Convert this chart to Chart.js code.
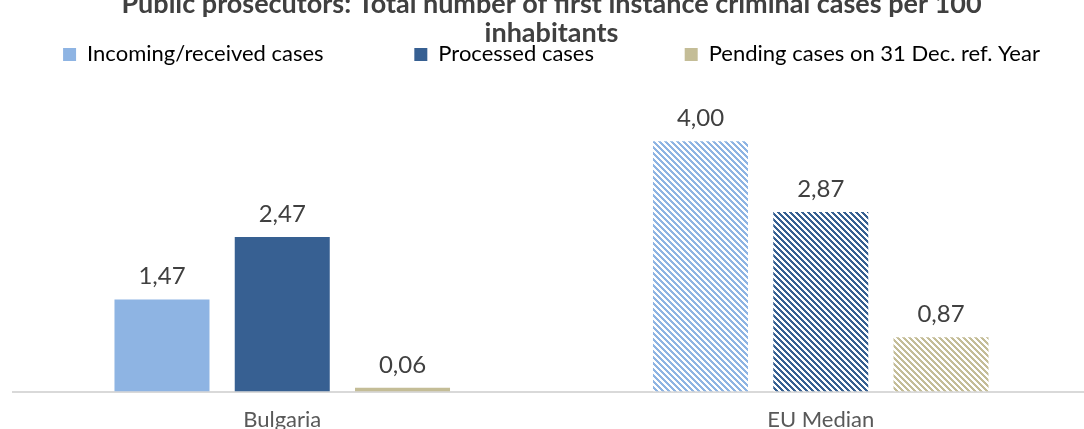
<!DOCTYPE html>
<html>
<head>
<meta charset="utf-8">
<script src="https://cdn.jsdelivr.net/npm/chart.js"></script>
<style>
  html, body { margin: 0; padding: 0; background: #fff; overflow: hidden; }
  #wrap { position: absolute; left: 0; top: -13px; width: 1092px; height: 453px; }
</style>
</head>
<body>
<div id="wrap"><canvas id="myChart"></canvas></div>
<script>
// data
const categories = ['Bulgaria', 'EU Median'];
const incoming = [1.47, 4.00];
const processed = [2.47, 2.87];
const pending = [0.06, 0.87];
const seriesNames = ['Incoming/received cases', 'Processed cases', 'Pending cases on 31 Dec. ref. Year'];
const seriesColors = ['#8eb4e3', '#376092', '#c4bd97'];

// diagonal hatch like Excel's "wide downward diagonal"
function hatch(color) {
  const n = 6;
  const c = document.createElement('canvas');
  c.width = n; c.height = n;
  const g = c.getContext('2d');
  g.fillStyle = '#fff';
  g.fillRect(0, 0, n, n);
  g.fillStyle = color;
  for (let y = 0; y < n; y++) {
    for (let x = 0; x < n; x++) {
      if ((x - y + n * 2) % n < 3) g.fillRect(x, y, 1, 1);
    }
  }
  return g.createPattern(c, 'repeat');
}

// solid for Bulgaria, hatched for EU Median
function fills(color) {
  return [color, hatch(color)];
}

// value labels above the bars, with decimal comma
const valueLabels = {
  id: 'valueLabels',
  afterDatasetsDraw(chart) {
    const ctx = chart.ctx;
    ctx.save();
    ctx.font = '24px Lato';
    ctx.fillStyle = '#404040';
    ctx.textAlign = 'center';
    ctx.textBaseline = 'middle';
    chart.data.datasets.forEach((ds, i) => {
      chart.getDatasetMeta(i).data.forEach((bar, j) => {
        ctx.fillText(ds.data[j].toFixed(2).replace('.', ','), bar.x, bar.y - 23);
      });
    });
    ctx.restore();
  }
};

const ctx = document.getElementById('myChart').getContext('2d');
new Chart(ctx, {
  type: 'bar',
  data: {
    labels: categories,
    datasets: [
      { label: seriesNames[0], data: incoming, backgroundColor: fills(seriesColors[0]) },
      { label: seriesNames[1], data: processed, backgroundColor: fills(seriesColors[1]) },
      { label: seriesNames[2], data: pending, backgroundColor: fills(seriesColors[2]) }
    ]
  },
  options: {
    responsive: true,
    maintainAspectRatio: false,
    animation: false,
    layout: { padding: { left: 13, right: 2, top: 0, bottom: 0 } },
    datasets: { bar: { categoryPercentage: 0.67, barPercentage: 0.79 } },
    scales: {
      x: {
        grid: { display: false },
        border: { display: true, color: '#d9d9d9', width: 2 },
        ticks: { color: '#595959', font: { family: 'Lato', size: 22 }, padding: 7 }
      },
      y: { display: false, min: 0, max: 5.05 }
    },
    plugins: {
      title: {
        display: true,
        text: ['Public prosecutors: Total number of first instance criminal cases per 100', 'inhabitants'],
        color: '#404040',
        font: { family: 'Lato', size: 27, weight: 'bold', lineHeight: 1.1 },
        padding: { top: 2, bottom: -45 }
      },
      legend: {
        position: 'top',
        labels: {
          // wider gaps than padding alone allows without wrapping the row
          generateLabels(chart) {
            const last = chart.data.datasets.length - 1;
            return chart.data.datasets.map((ds, i) => ({
              text: i < last ? ds.label + ' '.repeat(9) : ds.label,
              fillStyle: seriesColors[i],
              strokeStyle: seriesColors[i],
              lineWidth: 0,
              datasetIndex: i
            }));
          },
          boxWidth: 13,
          boxHeight: 13,
          padding: 40,
          color: '#595959',
          font: { family: 'Lato', size: 22 }
        }
      },
      tooltip: { enabled: false }
    }
  },
  plugins: [valueLabels]
});
</script>
</body>
</html>
